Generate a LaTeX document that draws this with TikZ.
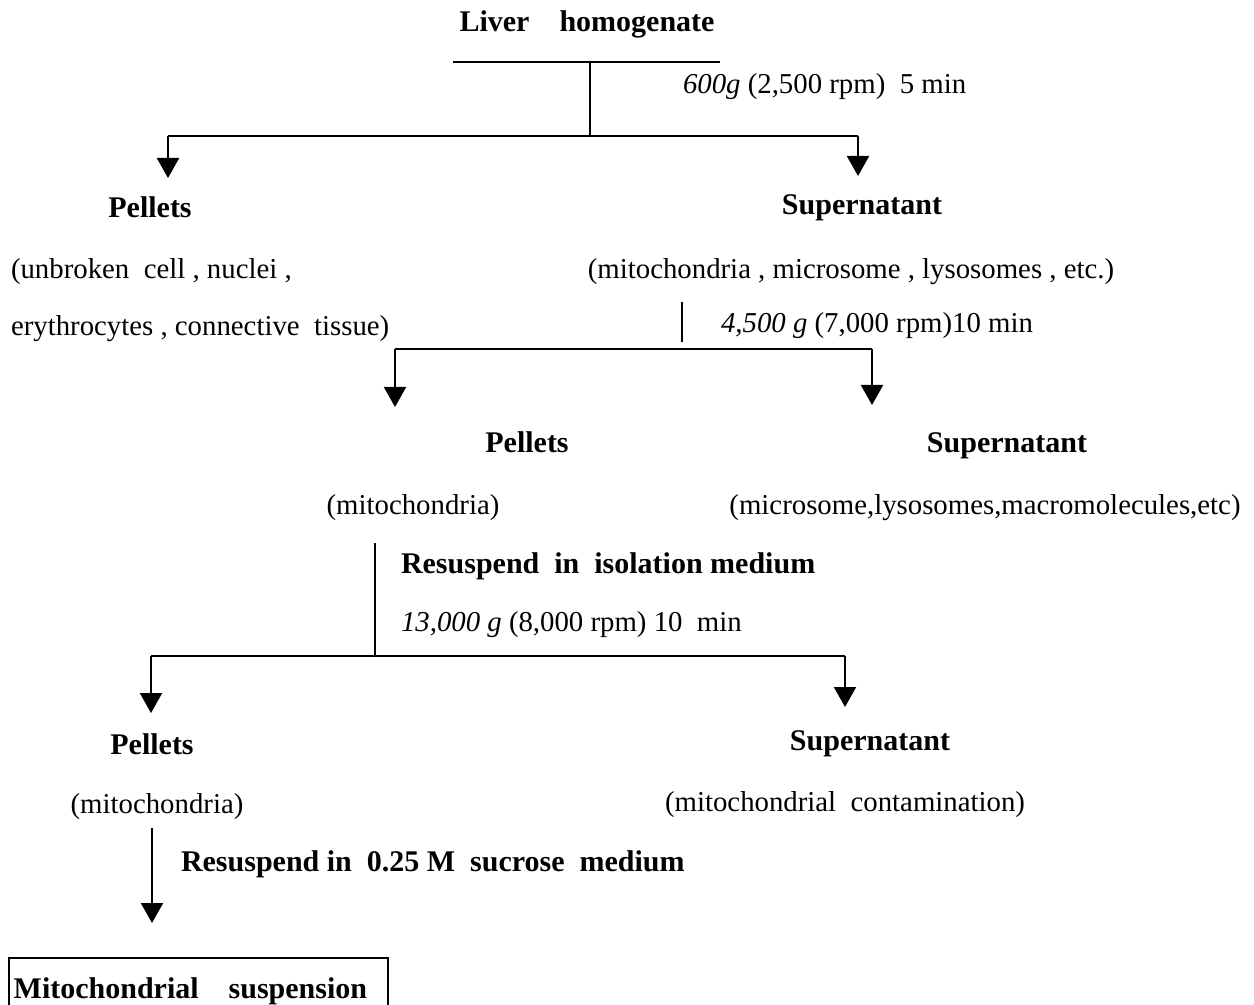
\documentclass[tikz,border=0pt]{standalone}
\usepackage{fontspec}
\setmainfont{Liberation Serif}
\usetikzlibrary{positioning}
\usetikzlibrary{arrows.meta}

\begin{document}
\begin{tikzpicture}[x=0.5pt,y=-0.5pt,line width=1pt,
		arr/.style={-{Triangle[length=10pt,width=11pt]}},
		head/.style={inner sep=0pt,font=\fontsize{15}{18}\selectfont\bfseries},
		txt/.style={inner sep=0pt,font=\fontsize{14.4}{17}\selectfont}]
	\useasboundingbox (0,0) rectangle (1254,1005);

	% first spin
	\node[head,anchor=mid] (liver) at (587,27) {Liver\quad homogenate};
	\coordinate (barl) at (453,62);
	\coordinate (barr) at (720,62);
	\coordinate (j1) at (590,62);
	\coordinate (k1) at (590,136);
	\coordinate (l1) at (168,136);
	\coordinate (r1) at (858,136);
	\coordinate (l1e) at (168,178);
	\coordinate (r1e) at (858,176);
	\draw (barl) -- (barr);
	\draw (j1) -- (k1);
	\draw (l1) -- (r1);
	\draw[arr] (l1) -- (l1e);
	\draw[arr] (r1) -- (r1e);
	\node[txt,anchor=mid west] (spin1) at (682,89) {\textit{600g} (2,500 rpm)\enspace 5 min};

	\node[head,anchor=mid] (pel1) at (150,213) {Pellets};
	\node[head,anchor=mid] (sup1) at (862,210) {Supernatant};
	\node[txt,anchor=mid west] (pel1a) at (10,274) {(unbroken\enspace cell , nuclei ,};
	\node[txt,anchor=mid west] (pel1b) at (10,331) {erythrocytes , connective\enspace tissue)};
	\node[txt,anchor=mid] (sup1a) at (851,274) {(mitochondria , microsome , lysosomes , etc.)};

	% second spin
	\coordinate (j2) at (682,302);
	\coordinate (k2) at (682,342);
	\coordinate (l2) at (395,349);
	\coordinate (r2) at (872,349);
	\coordinate (l2e) at (395,407);
	\coordinate (r2e) at (872,405);
	\draw (j2) -- (k2);
	\draw (l2) -- (r2);
	\draw[arr] (l2) -- (l2e);
	\draw[arr] (r2) -- (r2e);
	\node[txt,anchor=mid west] (spin2) at (720,328) {\textit{4,500 g} (7,000 rpm)10 min};

	\node[head,anchor=mid] (pel2) at (527,448) {Pellets};
	\node[head,anchor=mid] (sup2) at (1007,448) {Supernatant};
	\node[txt,anchor=mid] (pel2a) at (413,510) {(mitochondria)};
	\node[txt,anchor=mid] (sup2a) at (985,510) {(microsome,lysosomes,macromolecules,etc)};

	% third spin
	\coordinate (j3) at (375,543);
	\coordinate (k3) at (375,656);
	\coordinate (l3) at (151,656);
	\coordinate (r3) at (845,656);
	\coordinate (l3e) at (151,713);
	\coordinate (r3e) at (845,707);
	\draw (j3) -- (k3);
	\draw (l3) -- (r3);
	\draw[arr] (l3) -- (l3e);
	\draw[arr] (r3) -- (r3e);
	\node[head,anchor=mid west] (resus1) at (400,569) {Resuspend\enspace in\enspace isolation medium};
	\node[txt,anchor=mid west] (spin3) at (400,627) {\textit{13,000 g} (8,000 rpm) 10\enspace min};

	\node[head,anchor=mid] (pel3) at (152,750) {Pellets};
	\node[head,anchor=mid] (sup3) at (870,746) {Supernatant};
	\node[txt,anchor=mid] (pel3a) at (157,809) {(mitochondria)};
	\node[txt,anchor=mid] (sup3a) at (845,807) {(mitochondrial\enspace contamination)};

	% final step
	\coordinate (j4) at (152,828);
	\coordinate (j4e) at (152,923);
	\draw[arr] (j4) -- (j4e);
	\node[head,anchor=mid west] (resus2) at (180,867) {Resuspend in\enspace 0.25 M\enspace sucrose\enspace medium};
	\node[head,draw,line width=1.2pt,anchor=north west,minimum width=189.5pt,minimum height=33pt,
		text width=185pt,inner xsep=1pt,inner ysep=0pt,align=left] (susp) at (8,957) {Mitochondrial\quad suspension};
\end{tikzpicture}
\end{document}
